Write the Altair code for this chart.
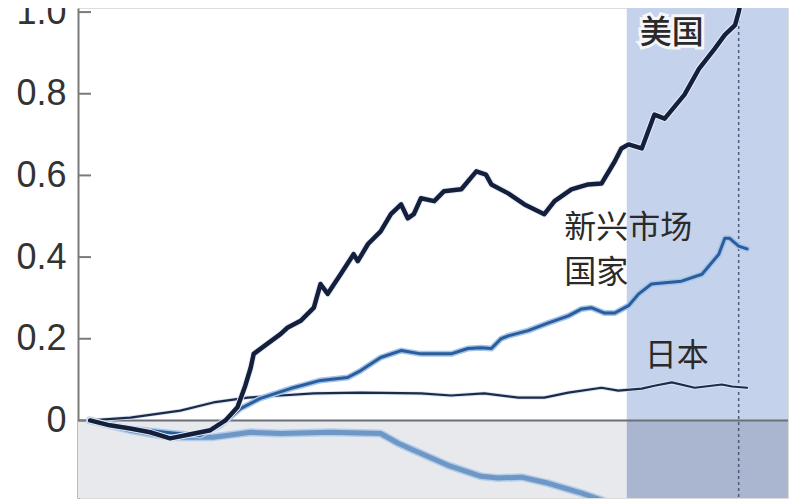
import altair as alt
import pandas as pd

# --- data (x = time index, y = change ratio) ---
us_x = [2.0, 5.3, 8.7, 12.0, 15.3, 18.7, 22.0, 24.5, 26.5, 27.8, 28.7, 29.2, 31.5, 33.7, 34.8, 37.0,
        39.2, 40.3, 41.5, 43.7, 45.8, 46.5, 48.2, 50.3, 52.0, 53.7, 54.8, 55.8, 57.0, 59.2, 60.8,
        63.7, 66.2, 67.8, 68.7, 71.5, 74.2, 77.5, 79.2, 82.0, 84.8, 87.0, 89.2, 90.3, 91.5, 93.7,
        95.8, 97.5, 100.8, 103.2, 105.8, 107.5, 109.2, 109.8, 110.5]
us_y = [0.0, -0.012, -0.020, -0.029, -0.044, -0.034, -0.024, 0.0, 0.032, 0.085, 0.129, 0.163,
        0.188, 0.212, 0.227, 0.244, 0.276, 0.334, 0.310, 0.359, 0.407, 0.390, 0.432, 0.463, 0.505,
        0.529, 0.495, 0.505, 0.544, 0.537, 0.561, 0.566, 0.610, 0.602, 0.578, 0.556, 0.529, 0.505,
        0.537, 0.566, 0.578, 0.580, 0.634, 0.666, 0.676, 0.666, 0.749, 0.739, 0.798, 0.861, 0.910,
        0.944, 0.968, 1.000, 1.049]

em_x = [2.0, 8.7, 15.3, 20.3, 23.7, 27.0, 30.3, 35.3, 40.3, 44.8, 47.0, 50.3, 53.7, 57.0, 62.0,
        64.8, 67.0, 68.7, 70.3, 71.5, 74.8, 78.2, 81.5, 83.7, 85.3, 87.5, 89.2, 91.5, 93.2, 95.3,
        100.3, 103.7, 106.5, 107.5, 108.3, 109.8, 111.2]
em_y = [0.0, -0.020, -0.030, -0.037, -0.012, 0.029, 0.054, 0.078, 0.098, 0.105, 0.122, 0.154,
        0.171, 0.163, 0.163, 0.176, 0.178, 0.176, 0.200, 0.207, 0.220, 0.239, 0.256, 0.273, 0.276,
        0.263, 0.263, 0.281, 0.310, 0.334, 0.341, 0.358, 0.407, 0.446, 0.446, 0.427, 0.420]

jp_x = [2.0, 8.7, 17.0, 22.5, 28.2, 33.7, 39.2, 47.0, 57.0, 62.0, 67.5, 73.2, 77.5, 81.5, 87.0,
        89.8, 93.7, 95.8, 98.7, 102.5, 107.0, 108.7, 111.2]
jp_y = [0.0, 0.007, 0.024, 0.044, 0.056, 0.061, 0.066, 0.068, 0.066, 0.061, 0.066, 0.056, 0.056,
        0.068, 0.080, 0.073, 0.078, 0.085, 0.093, 0.080, 0.088, 0.083, 0.080]

ot_x = [2.0, 8.7, 15.3, 22.5, 28.7, 33.7, 42.0, 50.3, 53.2, 55.8, 61.5, 67.0, 69.8, 73.7, 78.2,
        83.7, 87.0, 89.5]
ot_y = [0.0, -0.024, -0.041, -0.041, -0.029, -0.032, -0.029, -0.032, -0.056, -0.073, -0.110,
        -0.137, -0.141, -0.139, -0.154, -0.178, -0.195, -0.210]

tick_values = [-0.2, 0.0, 0.2, 0.4, 0.6, 0.8, 1.0]
shade_start, shade_end = 91.2, 118.0
marker_x = 109.8

labels_text = ["美国", "新兴市场", "国家", "日本"]
labels_x = [98.7, 80.8, 80.8, 94.2]
labels_y = [0.950, 0.472, 0.362, 0.158]
labels_align = ["center", "left", "left", "left"]

# --- scales ---
XDOM = [0, 118]
YDOM = [-0.19, 1.01]
xs = alt.Scale(domain=XDOM, nice=False, zero=False)
ys = alt.Scale(domain=YDOM, nice=False, zero=False)
yaxis = alt.Axis(values=tick_values, title=None, grid=False, ticks=False,
                 labelExpr="datum.value == 0 ? '0' : (datum.value < 0 ? '-' : '') + format(abs(datum.value), '.1f')",
                 labelFont="Liberation Sans", labelFontSize=36, labelColor="#333333",
                 labelPadding=12, domainColor="#7a7a7a", domainWidth=2, labelFlush=False,
                 labelOverlap=False, labelBound=False)

def X(f="x"):
    return alt.X(f + ":Q", scale=xs, axis=None)

def Y(f="y"):
    return alt.Y(f + ":Q", scale=ys, axis=yaxis)

regions = pd.DataFrame({
    "x": [0, shade_start, shade_start],
    "x2": [shade_start, shade_end, shade_end],
    "y": [YDOM[0], 0, YDOM[0]],
    "y2": [0, YDOM[1], 0],
    "c": ["#e8e9ec", "#c4d2eb", "#aab6cf"],
})
bg = alt.Chart(regions).mark_rect(clip=True).encode(
    x=X(), x2="x2:Q", y=Y(), y2="y2:Q", color=alt.Color("c:N", scale=None))

zero = alt.Chart(pd.DataFrame({"y": [0.0], "x": [XDOM[0]], "x2": [shade_end]})).mark_rule(
    color="#6b6f78", strokeWidth=2).encode(x=X(), x2="x2:Q", y=Y())

ticks = alt.Chart(pd.DataFrame({"y": [v for v in tick_values if v >= YDOM[0]]})).mark_rule(
    color="#7a7a7a", strokeWidth=2).encode(y=Y(), x=alt.value(0), x2=alt.value(13))

dash = alt.Chart(pd.DataFrame({"x": [marker_x]})).mark_rule(
    color="#4f5b78", strokeWidth=1.5, strokeDash=[3, 3]).encode(x=X(), y=alt.value(0), y2=alt.value(490))

def line(xv, yv, color, width, halo=None, halo_w=0):
    df = pd.DataFrame({"x": xv, "y": yv})
    layers = []
    if halo:
        layers.append(alt.Chart(df).mark_line(color=halo, strokeWidth=halo_w, clip=True,
                                              strokeJoin="round", strokeCap="round").encode(x=X(), y=Y()))
    layers.append(alt.Chart(df).mark_line(color=color, strokeWidth=width, clip=True,
                                          strokeJoin="round", strokeCap="round").encode(x=X(), y=Y()))
    return layers

lines = []
lines += line(ot_x, ot_y, "#6f97c6", 5, "#b3cdea", 8)
lines += line(jp_x, jp_y, "#1d2b4a", 2.2, "#d8e3f2", 4)
lines += line(em_x, em_y, "#2b5c9b", 3, "#a3c5ea", 6)
lines += line(us_x, us_y, "#141f3c", 4.5, "#e6ecf6", 6.5)

lab = pd.DataFrame({"t": labels_text, "x": labels_x, "y": labels_y, "a": labels_align})
text_layers = []
for i in range(len(labels_text)):
    d = lab.iloc[[i]]
    weight = 500 if i == 0 else "normal"
    if i == 0:
        text_layers.append(alt.Chart(d).mark_text(
            align=labels_align[i], baseline="middle", font="Noto Sans CJK SC", fontSize=32,
            fontWeight=weight, stroke="#f4f6fa", strokeWidth=6, color="#f4f6fa").encode(
            x=X(), y=Y(), text="t:N"))
    text_layers.append(alt.Chart(d).mark_text(
        align=labels_align[i], baseline="middle", font="Noto Sans CJK SC", fontSize=32,
        fontWeight=weight, color="#2a2a2a").encode(x=X(), y=Y(), text="t:N"))

chart = alt.layer(bg, zero, ticks, dash, *lines, *text_layers).properties(
    width=710, height=490,
    padding={"left": 70, "top": 0, "right": 2, "bottom": 2},
    autosize=alt.AutoSizeParams(type="none"),
).configure_view(stroke=None).configure(background="white")

chart.save("out.html", embed_options={"renderer": "svg", "actions": False})
